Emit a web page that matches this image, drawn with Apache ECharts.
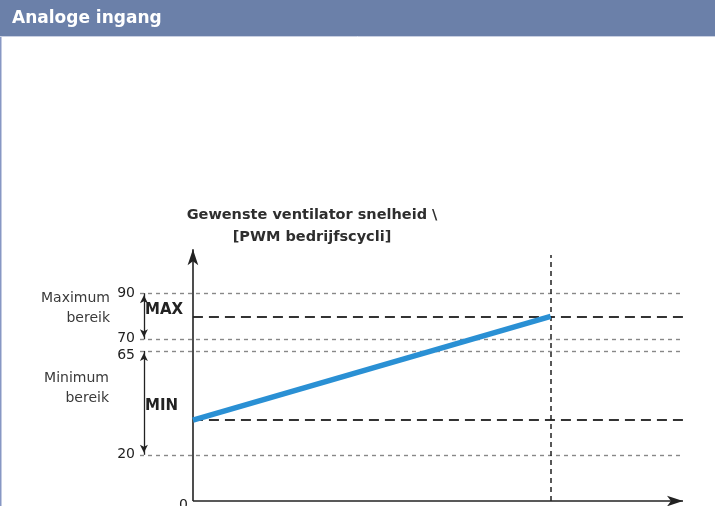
<!DOCTYPE html>
<html>
<head>
<meta charset="utf-8">
<script src="https://cdn.jsdelivr.net/npm/echarts@6/dist/echarts.min.js"></script>
<style>
  html, body { margin: 0; padding: 0; background: #fff; }
  #chart { width: 715px; height: 506px; }
</style>
</head>
<body>
<div id="chart"></div>
<script>
// values
const yTicks = [20, 65, 70, 90]
const maxRange = [90, 70]
const minRange = [65, 20]
const maxLevel = 80
const minLevel = 35
const inputX = [0, 73]
const speedY = [35, 80]

const xMin = -10.8
const xMax = 100
const yMax = 110

const chart = echarts.init(document.getElementById('chart'))

const font = 'DejaVu Sans, Verdana, sans-serif'

function markSeries(markLine) {
  return {
    type: 'line',
    data: [],
    silent: true,
    markLine: Object.assign({ silent: true, animation: false, label: { show: false } }, markLine)
  }
}

const option = {
  animation: false,
  backgroundColor: '#fff',
  grid: { left: 140, right: 32, top: 247, bottom: 5 },
  xAxis: {
    type: 'value',
    min: xMin,
    max: xMax,
    axisLine: { show: false },
    axisTick: { show: false },
    axisLabel: { show: false },
    splitLine: { show: false }
  },
  yAxis: {
    type: 'value',
    min: 0,
    max: yMax,
    axisLine: { show: false },
    axisTick: { show: false },
    splitLine: { show: false },
    axisLabel: {
      customValues: yTicks,
      margin: 5,
      fontFamily: font,
      fontSize: 14,
      color: '#222',
      formatter: v => (v === 65 ? '{lo|65}' : v === 70 ? '{hi|70}' : String(v)),
      rich: {
        lo: { fontFamily: font, fontSize: 14, color: '#222', padding: [8, 0, 0, 0] },
        hi: { fontFamily: font, fontSize: 14, color: '#222', padding: [0, 0, 3, 0] }
      }
    }
  },
  graphic: [
    { type: 'rect', shape: { x: 0, y: 0, width: 715, height: 36 }, style: { fill: '#6b80a9' } },
    { type: 'line', shape: { x1: 0, y1: 36.5, x2: 715, y2: 36.5 }, style: { stroke: '#c9d0e2', lineWidth: 1 } },
    { type: 'line', shape: { x1: 0.75, y1: 37, x2: 0.75, y2: 506 }, style: { stroke: '#8797c4', lineWidth: 1.5 } },
    {
      type: 'text', x: 12, y: 19,
      style: { text: 'Analoge ingang', fill: '#fff', verticalAlign: 'middle', font: 'bold 17px ' + font }
    },
    {
      type: 'text', x: 312, y: 226,
      style: {
        text: 'Gewenste ventilator snelheid \\\n[PWM bedrijfscycli]',
        fill: '#2e2e2e', align: 'center', verticalAlign: 'middle', lineHeight: 21.5,
        font: 'bold 14.5px ' + font
      }
    },
    {
      type: 'text', x: 110, y: 308,
      style: { text: 'Maximum\nbereik', fill: '#3a3a3a', align: 'right', verticalAlign: 'middle', lineHeight: 20, font: '14px ' + font }
    },
    {
      type: 'text', x: 109, y: 388,
      style: { text: 'Minimum\nbereik', fill: '#3a3a3a', align: 'right', verticalAlign: 'middle', lineHeight: 20, font: '14px ' + font }
    },
    {
      type: 'text', x: 145, y: 310,
      style: { text: 'MAX', fill: '#222', verticalAlign: 'middle', font: 'bold 15px ' + font }
    },
    {
      type: 'text', x: 145, y: 406,
      style: { text: 'MIN', fill: '#222', verticalAlign: 'middle', font: 'bold 15px ' + font }
    }
  ],
  series: [
    // reference levels, dotted grey
    markSeries({
      symbol: 'none',
      lineStyle: { color: '#888', type: [4, 4], width: 1.4 },
      data: yTicks.map(v => ({ yAxis: v }))
    }),
    // MAX / MIN levels
    markSeries({
      symbol: 'none',
      lineStyle: { color: '#333', type: [10, 6], width: 2 },
      data: [maxLevel, minLevel].map(v => [{ coord: [0, v] }, { coord: [xMax, v] }])
    }),
    // end of input range
    markSeries({
      symbol: 'none',
      lineStyle: { color: '#222', type: [5, 4], width: 1.5 },
      data: [[{ coord: [inputX[1], 0] }, { coord: [inputX[1], 106.5] }]]
    }),
    // range arrows
    markSeries({
      symbol: ['arrow', 'arrow'],
      symbolSize: [6, 8],
      symbolOffset: [[0, 2], [0, 2]],
      lineStyle: { color: '#222', type: 'solid', width: 1.3 },
      data: [maxRange, minRange].map(r => [{ coord: [-10, r[0]] }, { coord: [-10, r[1]] }])
    }),
    // axes with arrows
    markSeries({
      symbol: ['none', 'arrow'],
      symbolSize: [8, 16],
      lineStyle: { color: '#222', type: 'solid', width: 1.6 },
      data: [
        [{ coord: [0, 0] }, { coord: [0, 109] }],
        [
          { coord: [0, 0], label: { show: true, position: 'start', formatter: '0', distance: 5, offset: [0, 4], fontFamily: font, fontSize: 14, color: '#222' } },
          { coord: [xMax, 0] }
        ]
      ]
    }),
    {
      name: 'snelheid',
      type: 'line',
      data: inputX.map((x, i) => [x, speedY[i]]),
      symbol: 'none',
      silent: true,
      lineStyle: { color: '#2a90d4', width: 5.5, cap: 'butt' },
      z: 5
    }
  ]
}

chart.setOption(option)
</script>
</body>
</html>
